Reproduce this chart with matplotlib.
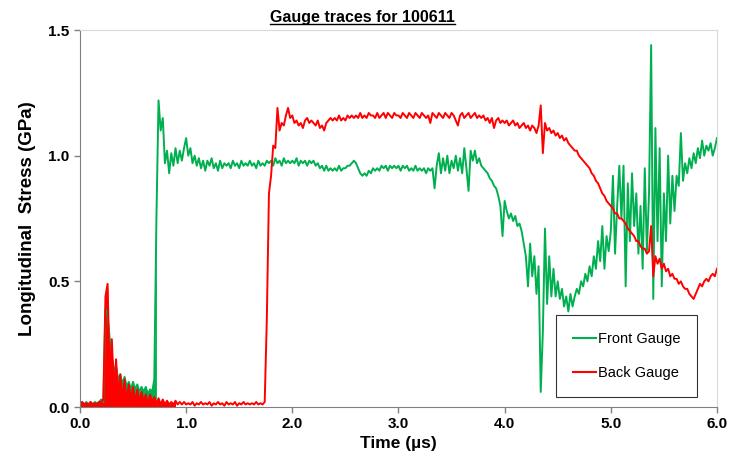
import numpy as np
import matplotlib
matplotlib.use("Agg")
import matplotlib.pyplot as plt
from matplotlib.lines import Line2D

plt.rcParams['font.family'] = ['Liberation Sans', 'DejaVu Sans']

# gauge records, one sample every 0.02 us from 0.0 to 6.0
step_us = 0.02

front_gauge = [
    0.01, 0.02, 0.01, 0.02, 0.01, 0.02, 0.01, 0.02, 0.015, 0.02,
    0.03, 0.02, 0.39, 0.37, 0.27, 0.20, 0.15, 0.16, 0.11, 0.13,
    0.09, 0.12, 0.08, 0.10, 0.07, 0.10, 0.07, 0.09, 0.06, 0.08,
    0.06, 0.08, 0.05, 0.07, 0.06, 0.11, 0.75, 1.22, 1.10, 1.15,
    0.97, 1.02, 0.93, 1.01, 0.96, 1.03, 0.97, 1.02, 0.98, 1.03,
    1.07, 1.00, 1.03, 0.97, 1.00, 0.96, 0.99, 0.95, 0.98, 0.94,
    0.98, 0.96, 0.99, 0.95, 0.97, 0.94, 0.98, 0.95, 0.97, 0.96,
    0.97, 0.95, 0.98, 0.96, 0.97, 0.95, 0.98, 0.96, 0.97, 0.96,
    0.98, 0.96, 0.97, 0.95, 0.98, 0.96, 0.97, 0.96, 0.98, 0.97,
    0.98, 0.96, 0.99, 0.97, 0.98, 0.96, 0.99, 0.97, 0.98, 0.97,
    0.98, 0.97, 0.99, 0.96, 0.98, 0.97, 0.98, 0.96, 0.98, 0.97,
    0.98, 0.96, 0.97, 0.95, 0.96, 0.94, 0.96, 0.94, 0.95, 0.94,
    0.95, 0.94, 0.96, 0.94, 0.95, 0.95, 0.96, 0.96, 0.97, 0.98,
    0.97, 0.95, 0.93, 0.92, 0.93, 0.92, 0.94, 0.93, 0.95, 0.94,
    0.95, 0.94, 0.96, 0.95, 0.96, 0.94, 0.96, 0.95, 0.96, 0.95,
    0.96, 0.94, 0.96, 0.95, 0.96, 0.94, 0.95, 0.94, 0.96, 0.94,
    0.95, 0.94, 0.95, 0.93, 0.95, 0.94, 0.95, 0.87, 0.96, 1.01,
    0.93, 0.99, 0.94, 1.00, 0.93, 0.98, 0.95, 1.00, 0.94, 0.99,
    0.93, 1.03, 0.95, 0.86, 1.02, 0.98, 1.02, 0.97, 0.99, 0.96,
    0.95, 0.94, 0.93, 0.91, 0.90, 0.88, 0.87, 0.84, 0.80, 0.68,
    0.82, 0.78, 0.75, 0.77, 0.74, 0.76, 0.72, 0.73, 0.70, 0.65,
    0.60, 0.48, 0.65, 0.52, 0.60, 0.45, 0.56, 0.06, 0.30, 0.71,
    0.41, 0.60, 0.44, 0.55, 0.44, 0.50, 0.43, 0.47, 0.40, 0.44,
    0.38, 0.45, 0.40, 0.44, 0.47, 0.45, 0.50, 0.48, 0.53, 0.50,
    0.56, 0.52, 0.60, 0.55, 0.66, 0.58, 0.72, 0.55, 0.68, 0.62,
    0.70, 0.92, 0.61, 0.80, 0.96, 0.75, 0.96, 0.48, 0.89, 0.66,
    0.93, 0.72, 0.85, 0.61, 0.80, 0.55, 0.95, 0.62, 0.85, 1.44,
    0.43, 1.11, 0.66, 1.03, 0.48, 0.85, 0.66, 1.00, 0.73, 0.92,
    0.78, 0.92, 0.88, 1.09, 0.90, 0.97, 0.93, 0.99, 0.95, 1.01,
    0.97, 1.03, 0.99, 1.06, 1.00, 1.04, 1.02, 1.05, 1.00, 1.03,
    1.07,
]

back_gauge = [
    0.01, 0.02, 0.01, 0.015, 0.01, 0.02, 0.01, 0.015, 0.01, 0.02,
    0.02, 0.03, 0.44, 0.49, 0.12, 0.27, 0.06, 0.19, 0.04, 0.13,
    0.03, 0.11, 0.02, 0.09, 0.03, 0.08, 0.02, 0.07, 0.02, 0.06,
    0.02, 0.05, 0.01, 0.05, 0.02, 0.04, 0.01, 0.035, 0.01, 0.03,
    0.01, 0.025, 0.01, 0.02, 0.01, 0.025, 0.01, 0.02, 0.01, 0.02,
    0.01, 0.015, 0.01, 0.02, 0.005, 0.015, 0.01, 0.02, 0.01, 0.015,
    0.01, 0.02, 0.005, 0.015, 0.01, 0.02, 0.01, 0.015, 0.005, 0.02,
    0.01, 0.015, 0.01, 0.02, 0.005, 0.015, 0.01, 0.02, 0.01, 0.015,
    0.01, 0.015, 0.01, 0.02, 0.01, 0.015, 0.01, 0.02, 0.35, 0.85,
    0.92, 1.04, 1.03, 1.19, 1.10, 1.13, 1.12, 1.16, 1.19, 1.15,
    1.16, 1.13, 1.14, 1.12, 1.13, 1.11, 1.14, 1.15, 1.13, 1.14,
    1.13, 1.12, 1.14, 1.11, 1.12, 1.10, 1.13, 1.14, 1.15, 1.14,
    1.15, 1.14, 1.16, 1.14, 1.15, 1.14, 1.16, 1.15, 1.16, 1.15,
    1.16, 1.15, 1.17, 1.15, 1.16, 1.15, 1.17, 1.16, 1.16, 1.15,
    1.17, 1.15, 1.16, 1.17, 1.15, 1.17, 1.16, 1.15, 1.17, 1.16,
    1.16, 1.15, 1.17, 1.16, 1.15, 1.17, 1.16, 1.15, 1.17, 1.16,
    1.15, 1.17, 1.16, 1.15, 1.16, 1.13, 1.17, 1.16, 1.15, 1.17,
    1.16, 1.15, 1.17, 1.16, 1.15, 1.17, 1.16, 1.14, 1.12, 1.16,
    1.17, 1.15, 1.16, 1.17, 1.15, 1.16, 1.17, 1.15, 1.16, 1.15,
    1.16, 1.14, 1.15, 1.13, 1.15, 1.11, 1.14, 1.15, 1.13, 1.14,
    1.13, 1.14, 1.12, 1.13, 1.14, 1.12, 1.13, 1.11, 1.12, 1.13,
    1.11, 1.12, 1.10, 1.12, 1.11, 1.09, 1.12, 1.20, 1.01, 1.13,
    1.10, 1.11, 1.09, 1.10, 1.08, 1.09, 1.07, 1.08, 1.06, 1.07,
    1.05, 1.04, 1.03, 1.02, 1.02, 1.00, 0.99, 0.98, 0.97, 0.96,
    0.95, 0.93, 0.92, 0.90, 0.89, 0.87, 0.85, 0.84, 0.82, 0.81,
    0.80, 0.79, 0.77, 0.77, 0.75, 0.75, 0.74, 0.73, 0.71, 0.70,
    0.69, 0.68, 0.66, 0.66, 0.64, 0.63, 0.63, 0.61, 0.62, 0.72,
    0.52, 0.60, 0.57, 0.59, 0.55, 0.57, 0.54, 0.55, 0.52, 0.53,
    0.51, 0.51, 0.49, 0.50, 0.48, 0.47, 0.47, 0.45, 0.44, 0.43,
    0.45, 0.47, 0.49, 0.48, 0.50, 0.51, 0.50, 0.52, 0.53, 0.52,
    0.55,
]

x_ticks = [0.0, 1.0, 2.0, 3.0, 4.0, 5.0, 6.0]
y_ticks = [0.0, 0.5, 1.0, 1.5]

green = '#00b050'
red = '#ff0000'

time = np.arange(len(front_gauge)) * step_us
front = np.array(front_gauge)
back = np.array(back_gauge)

fig = plt.figure(figsize=(7.29, 4.66), dpi=100)
ax = fig.add_axes([0.1097, 0.1266, 0.8738, 0.809])

# the early precursor ringing is so dense it reads as a solid block
early = time <= 0.72
ax.fill_between(time[early], front[early], color=green, lw=0)
ax.plot(time, front, color=green, lw=1.4, label='Front Gauge')
early = time <= 0.9
ax.fill_between(time[early], back[early], color=red, lw=0)
ax.plot(time, back, color=red, lw=1.4, label='Back Gauge')

ax.set_xlim(0, 6)
ax.set_ylim(0, 1.5)
ax.set_xticks(x_ticks)
ax.set_yticks(y_ticks)
ax.set_xticklabels(['%.1f' % v for v in x_ticks], fontweight='bold', fontsize=11)
ax.set_yticklabels(['%.1f' % v for v in y_ticks], fontweight='bold', fontsize=11)
ax.tick_params(direction='out', length=4, color='#808080', width=1)

for side in ['left', 'bottom']:
    ax.spines[side].set_color('#808080')
for side in ['top', 'right']:
    ax.spines[side].set_color('#d9d9d9')

ax.set_xlabel('Time (\u00b5s)', fontweight='bold', fontsize=12.5, labelpad=3)
ax.set_ylabel('Longitudinal  Stress (GPa)', fontweight='bold', fontsize=13.5, labelpad=9)

leg = ax.legend(loc='center', bbox_to_anchor=(0.858, 0.135), fontsize=10.5,
                frameon=True, fancybox=False, handlelength=1.6, handletextpad=0.15,
                labelspacing=1.35, borderpad=1.15, borderaxespad=0)
leg.get_frame().set_edgecolor('black')
leg.get_frame().set_linewidth(0.8)
for h in leg.get_lines():
    h.set_linewidth(1.5)

# underlined title
title = fig.text(0.497, 0.962, 'Gauge traces for 100611', ha='center', va='center',
                 fontweight='bold', fontsize=11.5)
fig.canvas.draw()
bb = title.get_window_extent().transformed(fig.transFigure.inverted())
fig.add_artist(Line2D([bb.x0, bb.x1], [bb.y0 + 0.002, bb.y0 + 0.002],
                      transform=fig.transFigure, color='black', lw=1))

fig.savefig('out.png', dpi=100)
